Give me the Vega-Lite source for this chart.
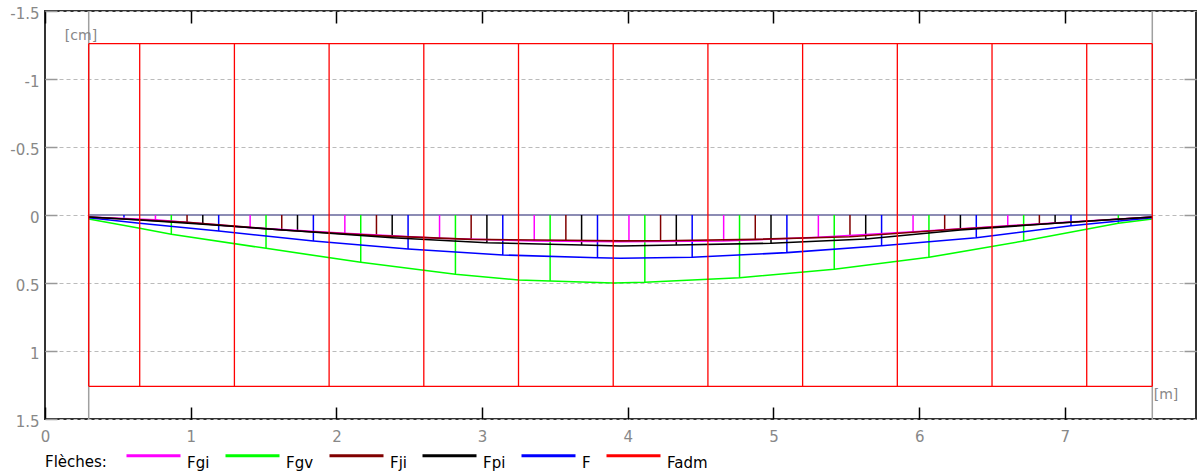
{
  "$schema": "https://vega.github.io/schema/vega-lite/v6.json",
  "width": 1151,
  "height": 408,
  "autosize": {"type": "none"},
  "padding": {"left": 45, "top": 11, "right": 1, "bottom": 56},
  "background": "white",
  "config": {
    "view": {"stroke": "#333", "strokeWidth": 2},
    "font": "DejaVu Sans",
    "axis": {"labelFont": "DejaVu Sans", "labelFontSize": 15, "labelColor": "#888", "domain": false, "title": null}
  },
  "datasets": {
    "curves": [
      {"s": "Fgi", "x": 0.3, "v": 0.015}, {"s": "Fgi", "x": 0.758, "v": 0.035}, {"s": "Fgi", "x": 1.408, "v": 0.093}, {"s": "Fgi", "x": 2.058, "v": 0.135}, {"s": "Fgi", "x": 2.708, "v": 0.171}, {"s": "Fgi", "x": 3.358, "v": 0.191}, {"s": "Fgi", "x": 3.95, "v": 0.197}, {"s": "Fgi", "x": 4.658, "v": 0.191}, {"s": "Fgi", "x": 5.308, "v": 0.164}, {"s": "Fgi", "x": 5.958, "v": 0.123}, {"s": "Fgi", "x": 6.608, "v": 0.079}, {"s": "Fgi", "x": 7.6, "v": 0.015},
      {"s": "Fgv", "x": 0.3, "v": 0.03}, {"s": "Fgv", "x": 0.65, "v": 0.098}, {"s": "Fgv", "x": 0.867, "v": 0.142}, {"s": "Fgv", "x": 1.517, "v": 0.245}, {"s": "Fgv", "x": 2.167, "v": 0.348}, {"s": "Fgv", "x": 2.817, "v": 0.436}, {"s": "Fgv", "x": 3.25, "v": 0.478}, {"s": "Fgv", "x": 3.467, "v": 0.485}, {"s": "Fgv", "x": 3.9, "v": 0.5}, {"s": "Fgv", "x": 4.117, "v": 0.495}, {"s": "Fgv", "x": 4.767, "v": 0.461}, {"s": "Fgv", "x": 5.417, "v": 0.399}, {"s": "Fgv", "x": 6.067, "v": 0.311}, {"s": "Fgv", "x": 6.717, "v": 0.191}, {"s": "Fgv", "x": 7.367, "v": 0.061}, {"s": "Fgv", "x": 7.6, "v": 0.03},
      {"s": "F", "x": 0.3, "v": 0.02}, {"s": "F", "x": 0.65, "v": 0.061}, {"s": "F", "x": 1.192, "v": 0.118}, {"s": "F", "x": 1.842, "v": 0.191}, {"s": "F", "x": 2.492, "v": 0.25}, {"s": "F", "x": 3.142, "v": 0.294}, {"s": "F", "x": 3.792, "v": 0.314}, {"s": "F", "x": 3.95, "v": 0.318}, {"s": "F", "x": 4.442, "v": 0.311}, {"s": "F", "x": 5.092, "v": 0.277}, {"s": "F", "x": 5.742, "v": 0.226}, {"s": "F", "x": 6.392, "v": 0.167}, {"s": "F", "x": 7.042, "v": 0.079}, {"s": "F", "x": 7.6, "v": 0.02},
      {"s": "Fji", "x": 0.3, "v": 0.015}, {"s": "Fji", "x": 0.975, "v": 0.054}, {"s": "Fji", "x": 1.625, "v": 0.11}, {"s": "Fji", "x": 2.275, "v": 0.152}, {"s": "Fji", "x": 2.925, "v": 0.179}, {"s": "Fji", "x": 3.575, "v": 0.186}, {"s": "Fji", "x": 3.95, "v": 0.19}, {"s": "Fji", "x": 4.225, "v": 0.189}, {"s": "Fji", "x": 4.875, "v": 0.179}, {"s": "Fji", "x": 5.525, "v": 0.16}, {"s": "Fji", "x": 6.175, "v": 0.11}, {"s": "Fji", "x": 6.825, "v": 0.068}, {"s": "Fji", "x": 7.6, "v": 0.015},
      {"s": "Fpi", "x": 0.3, "v": 0.015}, {"s": "Fpi", "x": 0.65, "v": 0.037}, {"s": "Fpi", "x": 1.083, "v": 0.068}, {"s": "Fpi", "x": 1.733, "v": 0.118}, {"s": "Fpi", "x": 2.383, "v": 0.167}, {"s": "Fpi", "x": 3.033, "v": 0.204}, {"s": "Fpi", "x": 3.683, "v": 0.221}, {"s": "Fpi", "x": 3.95, "v": 0.228}, {"s": "Fpi", "x": 4.333, "v": 0.221}, {"s": "Fpi", "x": 4.983, "v": 0.208}, {"s": "Fpi", "x": 5.633, "v": 0.176}, {"s": "Fpi", "x": 6.283, "v": 0.11}, {"s": "Fpi", "x": 6.933, "v": 0.061}, {"s": "Fpi", "x": 7.6, "v": 0.015}
    ],
    "arrows": [
      {"s": "F", "x": 0.542, "v": 0.02},
      {"s": "Fgi", "x": 0.758, "v": 0.035}, {"s": "Fgv", "x": 0.867, "v": 0.142}, {"s": "Fji", "x": 0.975, "v": 0.054}, {"s": "Fpi", "x": 1.083, "v": 0.068}, {"s": "F", "x": 1.192, "v": 0.118},
      {"s": "Fgi", "x": 1.408, "v": 0.093}, {"s": "Fgv", "x": 1.517, "v": 0.245}, {"s": "Fji", "x": 1.625, "v": 0.11}, {"s": "Fpi", "x": 1.733, "v": 0.118}, {"s": "F", "x": 1.842, "v": 0.191},
      {"s": "Fgi", "x": 2.058, "v": 0.135}, {"s": "Fgv", "x": 2.167, "v": 0.348}, {"s": "Fji", "x": 2.275, "v": 0.152}, {"s": "Fpi", "x": 2.383, "v": 0.167}, {"s": "F", "x": 2.492, "v": 0.25},
      {"s": "Fgi", "x": 2.708, "v": 0.171}, {"s": "Fgv", "x": 2.817, "v": 0.436}, {"s": "Fji", "x": 2.925, "v": 0.179}, {"s": "Fpi", "x": 3.033, "v": 0.204}, {"s": "F", "x": 3.142, "v": 0.294},
      {"s": "Fgi", "x": 3.358, "v": 0.191}, {"s": "Fgv", "x": 3.467, "v": 0.485}, {"s": "Fji", "x": 3.575, "v": 0.186}, {"s": "Fpi", "x": 3.683, "v": 0.221}, {"s": "F", "x": 3.792, "v": 0.314},
      {"s": "Fgi", "x": 4.008, "v": 0.196}, {"s": "Fgv", "x": 4.117, "v": 0.495}, {"s": "Fji", "x": 4.225, "v": 0.189}, {"s": "Fpi", "x": 4.333, "v": 0.221}, {"s": "F", "x": 4.442, "v": 0.311},
      {"s": "Fgi", "x": 4.658, "v": 0.191}, {"s": "Fgv", "x": 4.767, "v": 0.461}, {"s": "Fji", "x": 4.875, "v": 0.179}, {"s": "Fpi", "x": 4.983, "v": 0.208}, {"s": "F", "x": 5.092, "v": 0.277},
      {"s": "Fgi", "x": 5.308, "v": 0.164}, {"s": "Fgv", "x": 5.417, "v": 0.399}, {"s": "Fji", "x": 5.525, "v": 0.16}, {"s": "Fpi", "x": 5.633, "v": 0.176}, {"s": "F", "x": 5.742, "v": 0.226},
      {"s": "Fgi", "x": 5.958, "v": 0.123}, {"s": "Fgv", "x": 6.067, "v": 0.311}, {"s": "Fji", "x": 6.175, "v": 0.11}, {"s": "Fpi", "x": 6.283, "v": 0.11}, {"s": "F", "x": 6.392, "v": 0.167},
      {"s": "Fgi", "x": 6.608, "v": 0.079}, {"s": "Fgv", "x": 6.717, "v": 0.191}, {"s": "Fji", "x": 6.825, "v": 0.068}, {"s": "Fpi", "x": 6.933, "v": 0.061}, {"s": "F", "x": 7.042, "v": 0.079},
      {"s": "Fgv", "x": 7.367, "v": 0.061}
    ],
    "fadmV": [
      {"s": "Fadm", "x": 0.3, "lo": -1.26, "hi": 1.26}, {"s": "Fadm", "x": 0.65, "lo": -1.26, "hi": 1.26}, {"s": "Fadm", "x": 1.3, "lo": -1.26, "hi": 1.26}, {"s": "Fadm", "x": 1.95, "lo": -1.26, "hi": 1.26}, {"s": "Fadm", "x": 2.6, "lo": -1.26, "hi": 1.26}, {"s": "Fadm", "x": 3.25, "lo": -1.26, "hi": 1.26}, {"s": "Fadm", "x": 3.9, "lo": -1.26, "hi": 1.26}, {"s": "Fadm", "x": 4.55, "lo": -1.26, "hi": 1.26}, {"s": "Fadm", "x": 5.2, "lo": -1.26, "hi": 1.26}, {"s": "Fadm", "x": 5.85, "lo": -1.26, "hi": 1.26}, {"s": "Fadm", "x": 6.5, "lo": -1.26, "hi": 1.26}, {"s": "Fadm", "x": 7.15, "lo": -1.26, "hi": 1.26}, {"s": "Fadm", "x": 7.6, "lo": -1.26, "hi": 1.26}
    ],
    "fadmH": [
      {"s": "Fadm", "x": 0.3, "x2": 7.6, "y": -1.26}, {"s": "Fadm", "x": 0.3, "x2": 7.6, "y": 1.26}
    ],
    "supports": [{"x": 0.3}, {"x": 7.6}],
    "beam": [{"x": 0.3, "x2": 7.6, "y": 0}]
  },
  "layer": [
    {
      "data": {"name": "supports"},
      "mark": {"type": "rule", "color": "#a0a0a0", "strokeWidth": 1.5},
      "encoding": {
        "x": {"field": "x", "type": "quantitative", "scale": {"domain": [0, 7.9], "nice": false, "zero": false},
          "axis": {"orient": "bottom", "values": [0, 1, 2, 3, 4, 5, 6, 7], "tickSize": -12, "tickColor": "#000", "tickWidth": 1.5, "labelPadding": 22, "labelFlush": false, "grid": false}}
      }
    },
    {
      "data": {"name": "beam"},
      "mark": {"type": "rule", "color": "#8c8cb4", "strokeWidth": 2},
      "encoding": {
        "x": {"field": "x", "type": "quantitative", "axis": null},
        "x2": {"field": "x2"},
        "y": {"field": "y", "type": "quantitative", "scale": {"domain": [-1.5, 1.5], "reverse": true, "nice": false, "zero": false},
          "axis": {"orient": "left", "values": [-1.5, -1, -0.5, 0, 0.5, 1, 1.5], "tickSize": -12, "tickColor": "#999", "tickWidth": 1.5, "labelPadding": 18, "labelOffset": 2, "labelFlush": false, "labelExpr": "toString(datum.value)",
            "grid": true, "gridColor": "#bbb", "gridDash": [4, 3]}}
      }
    },
    {
      "data": {"name": "arrows"},
      "mark": {"type": "rule", "strokeWidth": 1.5},
      "encoding": {
        "x": {"field": "x", "type": "quantitative",
          "axis": {"orient": "top", "values": [0, 1, 2, 3, 4, 5, 6, 7], "labels": false, "tickSize": -12, "tickColor": "#000", "tickWidth": 1.5, "grid": false}},
        "y": {"field": "v", "type": "quantitative",
          "axis": {"orient": "right", "values": [-1, -0.5, 0, 0.5, 1], "labels": false, "tickSize": -12, "tickColor": "#999", "tickWidth": 1.5, "grid": false}},
        "y2": {"datum": 0},
        "color": {"field": "s", "type": "nominal"}
      }
    },
    {
      "data": {"name": "curves"},
      "mark": {"type": "line", "strokeWidth": 1.6},
      "encoding": {
        "x": {"field": "x", "type": "quantitative", "axis": null},
        "y": {"field": "v", "type": "quantitative", "axis": null},
        "color": {"field": "s", "type": "nominal",
          "scale": {"domain": ["Fgi", "Fgv", "Fji", "Fpi", "F", "Fadm"], "range": ["#ff00ff", "#00ff00", "#800000", "#000000", "#0000ff", "#ff0000"]},
          "legend": {"orient": "none", "legendX": 80, "legendY": 416, "direction": "horizontal", "title": null,
            "symbolType": "stroke", "symbolSize": 2916, "symbolStrokeWidth": 3, "labelFont": "DejaVu Sans", "labelFontSize": 15, "labelColor": "#000", "labelBaseline": "top", "labelOffset": 5, "columnPadding": 9, "labelLimit": 200}},
        "detail": {"field": "s", "type": "nominal"}
      }
    },
    {
      "data": {"name": "fadmV"},
      "mark": {"type": "rule", "strokeWidth": 1.3},
      "encoding": {
        "x": {"field": "x", "type": "quantitative", "axis": null},
        "y": {"field": "lo", "type": "quantitative", "axis": null},
        "y2": {"field": "hi"},
        "color": {"field": "s", "type": "nominal"}
      }
    },
    {
      "data": {"name": "fadmH"},
      "mark": {"type": "rule", "strokeWidth": 1.3},
      "encoding": {
        "x": {"field": "x", "type": "quantitative", "axis": null},
        "x2": {"field": "x2"},
        "y": {"field": "y", "type": "quantitative", "axis": null},
        "color": {"field": "s", "type": "nominal"}
      }
    },
    {
      "data": {"values": [{"t": "[cm]", "x": 0.247, "y": -1.316}]},
      "mark": {"type": "text", "align": "center", "baseline": "middle", "font": "DejaVu Sans", "fontSize": 14, "color": "#888"},
      "encoding": {
        "x": {"field": "x", "type": "quantitative", "axis": null},
        "y": {"field": "y", "type": "quantitative", "axis": null},
        "text": {"field": "t"}
      }
    },
    {
      "data": {"values": [{"t": "[m]", "x": 7.61, "y": 1.32}]},
      "mark": {"type": "text", "align": "left", "baseline": "middle", "font": "DejaVu Sans", "fontSize": 14, "color": "#888"},
      "encoding": {
        "x": {"field": "x", "type": "quantitative", "axis": null},
        "y": {"field": "y", "type": "quantitative", "axis": null},
        "text": {"field": "t"}
      }
    },
    {
      "data": {"values": [{"t": "Flèches:", "x": 0, "y": 1.816}]},
      "mark": {"type": "text", "align": "left", "baseline": "middle", "font": "DejaVu Sans", "fontSize": 15, "color": "#000", "clip": false},
      "encoding": {
        "x": {"field": "x", "type": "quantitative", "axis": null},
        "y": {"field": "y", "type": "quantitative", "axis": null},
        "text": {"field": "t"}
      }
    }
  ],
  "resolve": {"axis": {"x": "independent", "y": "independent"}}
}
